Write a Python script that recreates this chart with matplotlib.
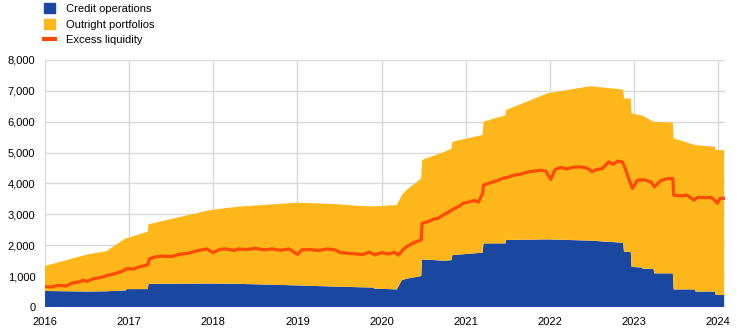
import numpy as np
import matplotlib
matplotlib.use("Agg")
import matplotlib.pyplot as plt
from matplotlib.patches import Patch
from matplotlib.lines import Line2D

plt.rcParams['font.family'] = ['Liberation Sans', 'DejaVu Sans']

# balance sheet breakpoints (decimal years), EUR billions
dates = [2016.00, 2016.50, 2016.73, 2016.96, 2016.97, 2017.22, 2017.23, 2017.96, 2018.30,
         2019.00, 2019.47, 2019.75, 2019.90, 2019.91, 2020.18, 2020.24, 2020.30, 2020.47,
         2020.48, 2020.75, 2020.83, 2020.84, 2021.20, 2021.21, 2021.47, 2021.48, 2021.97,
         2022.48, 2022.87, 2022.88, 2022.96, 2022.97, 2023.09, 2023.10, 2023.23, 2023.24,
         2023.46, 2023.47, 2023.72, 2023.73, 2023.96, 2023.97, 2024.07]
credit = [520, 500, 510, 540, 580, 580, 750, 760, 750,
          700, 660, 640, 630, 600, 570, 870, 920, 1000,
          1540, 1500, 1520, 1680, 1760, 2060, 2060, 2170, 2190,
          2150, 2080, 1790, 1790, 1300, 1280, 1240, 1240, 1090,
          1090, 570, 570, 500, 500, 390, 390]
outright = [810, 1200, 1300, 1690, 1650, 1860, 1930, 2380, 2500,
            2680, 2670, 2630, 2630, 2660, 2730, 2750, 2880, 3160,
            3220, 3530, 3610, 3670, 3810, 3940, 4150, 4210, 4730,
            5000, 4960, 4960, 4960, 4970, 4920, 4960, 4760, 4910,
            4880, 4890, 4680, 4740, 4690, 4690, 4690]

# excess liquidity
el_dates = [2016.00, 2016.08, 2016.15, 2016.25, 2016.33, 2016.42, 2016.45, 2016.50, 2016.58,
            2016.67, 2016.75, 2016.83, 2016.92, 2016.97, 2017.05, 2017.12, 2017.20, 2017.22,
            2017.24, 2017.30, 2017.40, 2017.50, 2017.60, 2017.70, 2017.80, 2017.92, 2018.00,
            2018.08, 2018.15, 2018.25, 2018.30, 2018.40, 2018.50, 2018.60, 2018.70, 2018.80,
            2018.90, 2019.00, 2019.05, 2019.15, 2019.25, 2019.35, 2019.45, 2019.50, 2019.60,
            2019.70, 2019.78, 2019.85, 2019.92, 2020.00, 2020.08, 2020.15, 2020.20, 2020.25,
            2020.30, 2020.38, 2020.47, 2020.48, 2020.55, 2020.62, 2020.67, 2020.73, 2020.80,
            2020.85, 2020.92, 2020.97, 2021.05, 2021.10, 2021.15, 2021.20, 2021.21, 2021.30,
            2021.38, 2021.45, 2021.50, 2021.57, 2021.65, 2021.73, 2021.80, 2021.89, 2021.95,
            2022.01, 2022.06, 2022.13, 2022.20, 2022.28, 2022.36, 2022.44, 2022.50, 2022.55,
            2022.62, 2022.70, 2022.75, 2022.80, 2022.86, 2022.90, 2022.94, 2022.98, 2023.04,
            2023.12, 2023.20, 2023.24, 2023.32, 2023.40, 2023.46, 2023.47, 2023.55, 2023.63,
            2023.71, 2023.75, 2023.85, 2023.92, 2023.99, 2024.02, 2024.07]
excess = [660, 650, 700, 680, 780, 820, 870, 830, 920,
          960, 1030, 1080, 1160, 1240, 1230, 1300, 1350, 1360,
          1560, 1620, 1650, 1630, 1710, 1740, 1820, 1880, 1760,
          1870, 1880, 1830, 1880, 1860, 1900, 1850, 1880, 1840,
          1880, 1700, 1850, 1860, 1830, 1880, 1850, 1770, 1740,
          1720, 1700, 1780, 1690, 1760, 1720, 1770, 1680, 1850,
          1960, 2080, 2170, 2710, 2760, 2850, 2870, 2980, 3080,
          3170, 3260, 3360, 3410, 3450, 3400, 3680, 3950, 4030,
          4100, 4180, 4200, 4270, 4300, 4370, 4400, 4430, 4400,
          4130, 4450, 4520, 4470, 4530, 4540, 4500, 4380, 4450,
          4480, 4700, 4620, 4720, 4700, 4450, 4110, 3840, 4110,
          4120, 4050, 3890, 4100, 4160, 4160, 3620, 3600, 3620,
          3460, 3550, 3540, 3550, 3360, 3520, 3520]

c_blue = '#1a47a0'
c_yellow = '#fdb71a'
c_orange = '#ff4b00'

fig = plt.figure(figsize=(7.44, 3.33), dpi=100)
ax = fig.add_axes([0.0605, 0.078, 0.914, 0.742])

ax.stackplot(dates, credit, outright, colors=[c_blue, c_yellow], linewidth=0, zorder=2)
ax.plot(el_dates, excess, color=c_orange, linewidth=2.3, zorder=3)

ax.set_xlim(2016, 2024.08)
ax.set_ylim(0, 8000)
ax.set_xticks(range(2016, 2025))
ax.set_xticklabels([str(y) for y in range(2016, 2025)])
ax.set_yticks(range(0, 8001, 1000))
ax.set_yticklabels([f"{v:,}" for v in range(0, 8001, 1000)])
ax.grid(True, color='#d9d9d9', linewidth=1, zorder=0)
ax.set_axisbelow(True)
for s in ax.spines.values():
    s.set_visible(False)
ax.tick_params(length=0, labelsize=8, colors='black')
ax.tick_params(axis='x', pad=7)
ax.tick_params(axis='y', pad=7)

handles = [Patch(color=c_blue), Patch(color=c_yellow),
           Line2D([0], [0], color=c_orange, linewidth=3)]
labels = ['Credit operations', 'Outright portfolios', 'Excess liquidity']
fig.legend(handles, labels, loc='upper left', bbox_to_anchor=(0.058, 0.994),
           frameon=False, fontsize=8, handlelength=1.0, handleheight=1.0,
           handletextpad=1.0, labelspacing=0.45, borderpad=0.1, borderaxespad=0)

fig.savefig('out.png', dpi=100)
